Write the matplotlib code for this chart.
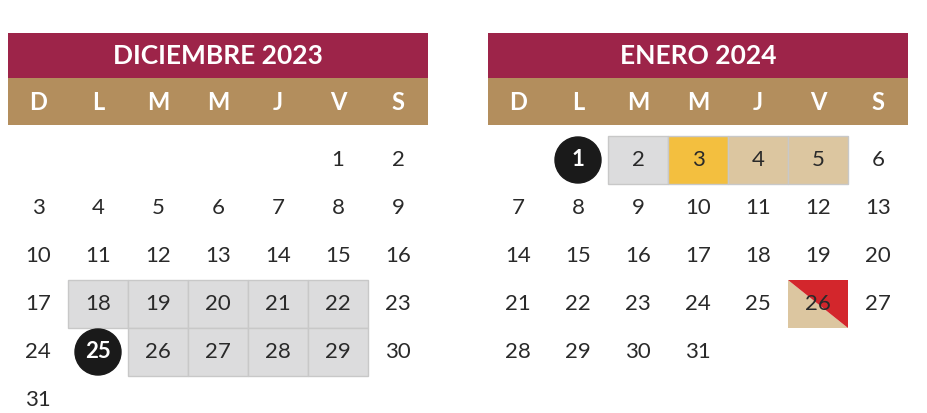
import matplotlib
matplotlib.use("Agg")
import matplotlib.pyplot as plt
from matplotlib.patches import Rectangle, Circle, Polygon

MONTHS = ["DICIEMBRE 2023", "ENERO 2024"]
WEEKDAYS = ["D", "L", "M", "M", "J", "V", "S"]
START_COL = [5, 1]          # weekday column of day 1
N_DAYS = [31, 31]
LEFT = [8, 488]             # left edge of each calendar (px)

# highlighted cells: (month, day, style)
MARKS = [
    (0, 18, "gray"), (0, 19, "gray"), (0, 20, "gray"), (0, 21, "gray"), (0, 22, "gray"),
    (0, 26, "gray"), (0, 27, "gray"), (0, 28, "gray"), (0, 29, "gray"),
    (0, 25, "circle"),
    (1, 1, "circle"), (1, 2, "gray"), (1, 3, "yellow"), (1, 4, "tan"), (1, 5, "tan"),
    (1, 26, "split"),
]

MAROON = "#9d2449"
GOLD = "#b38e5d"
FILL = {"gray": "#dcdcdd", "yellow": "#f3bf3f", "tan": "#dcc6a0"}
RED = "#d3262c"

CW, RH, ROW0 = 60, 48, 160
W = CW * 7

fig = plt.figure(figsize=(9.27, 4.13), dpi=100)
ax = fig.add_axes([0, 0, 1, 1])
ax.set_xlim(0, 927)
ax.set_ylim(413, 0)
ax.axis("off")

font = "Lato"
for m, name in enumerate(MONTHS):
    x0 = LEFT[m]
    ax.add_patch(Rectangle((x0, 33), W, 45, color=MAROON, lw=0))
    ax.add_patch(Rectangle((x0, 78), W, 47, color=GOLD, lw=0))
    ax.text(x0 + W / 2, 56, name, color="white", fontsize=19, fontweight="bold",
            ha="center", va="center", family=font)
    for c, wd in enumerate(WEEKDAYS):
        ax.text(x0 + CW * c + CW / 2, 102, wd, color="white", fontsize=17,
                fontweight="bold", ha="center", va="center", family=font)


def cell(m, d):
    idx = START_COL[m] + d - 1
    r, c = divmod(idx, 7)
    return LEFT[m] + CW * c, ROW0 + RH * r - RH / 2


circles = set()
for m, d, style in MARKS:
    x, y = cell(m, d)
    if style == "circle":
        ax.add_patch(Circle((x + CW / 2, y + RH / 2), 23, color="#1a1a1a", zorder=2))
        circles.add((m, d))
    elif style == "split":
        ax.add_patch(Polygon([(x, y), (x + CW, y + RH), (x, y + RH)], color=FILL["tan"], lw=0))
        ax.add_patch(Polygon([(x, y), (x + CW, y), (x + CW, y + RH)], color=RED, lw=0))
    else:
        ax.add_patch(Rectangle((x, y), CW, RH, facecolor=FILL[style],
                               edgecolor="#c8c8c8", lw=1))

for m in range(2):
    for d in range(1, N_DAYS[m] + 1):
        x, y = cell(m, d)
        white = (m, d) in circles
        ax.text(x + CW / 2, y + RH / 2, str(d), fontsize=16, ha="center", va="center",
                family=font, color="white" if white else "#2a2a2a",
                fontweight="bold" if white else "normal", zorder=3)

fig.savefig("out.png", dpi=100, facecolor="white")
